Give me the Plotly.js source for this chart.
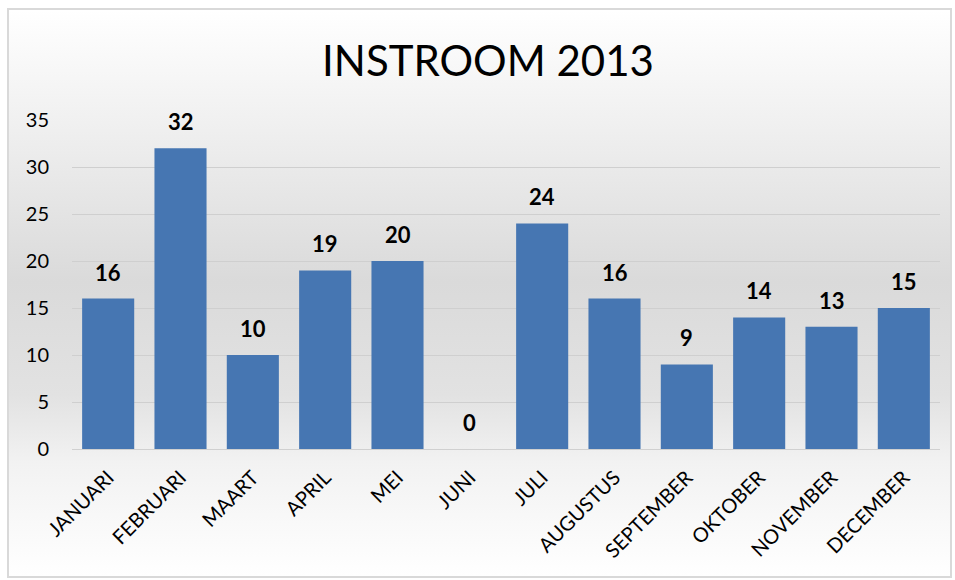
<!DOCTYPE html>
<html>
<head>
<meta charset="utf-8">
<script src="https://cdn.plot.ly/plotly-3.0.1.min.js"></script>
<style>
  html, body { margin: 0; padding: 0; background: #ffffff; }
  #wrap {
    position: absolute; left: 0; top: 0; width: 955px; height: 580px;
  }
  #frame {
    position: absolute; left: 7px; top: 8px; width: 941px; height: 566px;
    border: 2px solid #d9d9d9;
    background: linear-gradient(to bottom, #ffffff 0%, #f0f0f0 20%, #dadada 48%, #e2e2e2 68%, #f2f2f2 80%, #ffffff 100%);
  }
  #chart { position: absolute; left: 0; top: 0; width: 955px; height: 580px; }
</style>
</head>
<body>
<div id="wrap">
  <div id="frame"></div>
  <div id="chart"></div>
</div>
<script>
const months = ["JANUARI","FEBRUARI","MAART","APRIL","MEI","JUNI","JULI","AUGUSTUS","SEPTEMBER","OKTOBER","NOVEMBER","DECEMBER"];
const values = [16, 32, 10, 19, 20, 0, 24, 16, 9, 14, 13, 15];
const yTicks = [0, 5, 10, 15, 20, 25, 30, 35];
const chartTitle = "INSTROOM 2013";

const FONT = "Lato, 'Open Sans', sans-serif";

const trace = {
  type: "bar",
  x: months,
  y: values,
  marker: { color: "#4676b2", line: { width: 0 } },
  hoverinfo: "x+y"
};

const annotations = months.map((m, i) => ({
  x: m, y: values[i], xref: "x", yref: "y",
  text: "<b>" + values[i] + "</b>",
  showarrow: false, yanchor: "bottom", yshift: 11,
  font: { family: FONT, size: 22, color: "#000000" }
}));

const layout = {
  width: 955, height: 580,
  paper_bgcolor: "rgba(0,0,0,0)",
  plot_bgcolor: "rgba(0,0,0,0)",
  margin: { l: 72, r: 15, t: 120, b: 131 },
  title: {
    text: chartTitle,
    x: 0.511, xanchor: "center",
    y: 0.895, yanchor: "middle",
    font: { family: FONT, size: 42, color: "#000000" }
  },
  bargap: 0.28,
  showlegend: false,
  xaxis: {
    type: "category",
    tickangle: -45,
    tickfont: { family: FONT, size: 20, color: "#000000" },
    showgrid: false,
    showline: true, linecolor: "#d0d0d0", linewidth: 1,
    ticks: "", ticklabelstandoff: 8
  },
  yaxis: {
    range: [0, 35],
    tickvals: yTicks,
    ticktext: yTicks.map(String),
    tickfont: { family: FONT, size: 20, color: "#000000" },
    showgrid: true, gridcolor: "#cfcfcf", gridwidth: 1,
    zeroline: false, showline: false,
    ticks: "", ticklabelstandoff: 22
  },
  annotations: annotations
};

Plotly.newPlot("chart", [trace], layout, { displayModeBar: false, staticPlot: true });
</script>
</body>
</html>
